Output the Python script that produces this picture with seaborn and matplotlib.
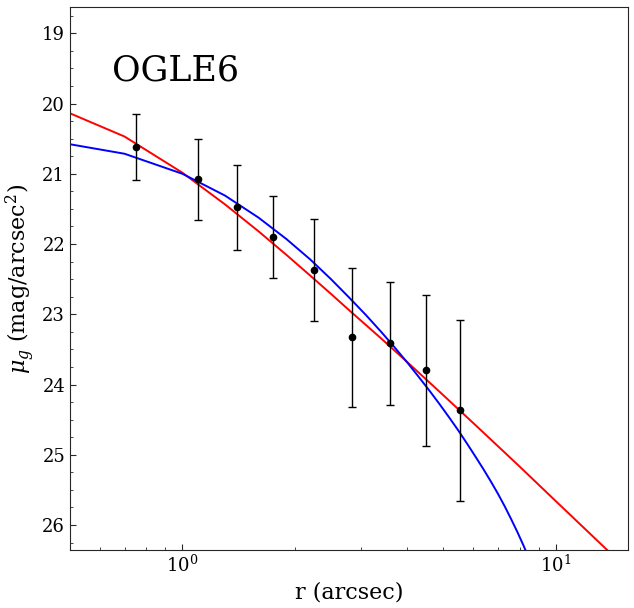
import numpy as np
import pandas as pd
import matplotlib
matplotlib.use("Agg")
import matplotlib.pyplot as plt
import seaborn as sns
from matplotlib.ticker import AutoMinorLocator

# Observed profile
r_obs = [0.752, 1.104, 1.403, 1.752, 2.255, 2.850, 3.603, 4.497, 5.545]
mu_obs = [20.62, 21.08, 21.48, 21.90, 22.37, 23.33, 23.41, 23.80, 24.37]
mu_err = [0.47, 0.58, 0.60, 0.585, 0.73, 0.99, 0.875, 1.075, 1.295]

# Red model curve
r_red = [0.4, 0.7, 1.0, 1.3, 1.6, 1.9, 2.2, 2.5, 2.8, 3.4, 4.0, 4.9, 6.1, 7.9, 10.0, 14.2]
mu_red = [19.92, 20.47, 20.985, 21.435, 21.82, 22.155, 22.45, 22.71, 22.945, 23.34,
          23.68, 24.11, 24.58, 25.14, 25.66, 26.43]

# Blue model curve
r_blue = [0.4, 0.7, 1.0, 1.3, 1.6, 1.9, 2.2, 2.5, 2.8, 3.1, 3.4, 3.7, 4.0, 4.3, 4.6,
          4.9, 5.2, 5.5, 5.8, 6.1, 6.4, 6.7, 7.0, 7.3, 7.6, 7.9, 8.2, 8.5]
mu_blue = [20.49, 20.715, 21.0, 21.31, 21.625, 21.93, 22.22, 22.50, 22.765, 23.01,
           23.245, 23.47, 23.685, 23.895, 24.095, 24.29, 24.48, 24.665, 24.85, 25.03,
           25.205, 25.38, 25.555, 25.735, 25.92, 26.105, 26.295, 26.49]

sns.set_style("ticks")
plt.rcParams['font.family'] = ['DejaVu Serif']
plt.rcParams['mathtext.fontset'] = 'dejavuserif'
plt.rcParams['text.color'] = 'black'
plt.rcParams['axes.labelcolor'] = 'black'
plt.rcParams['xtick.color'] = 'black'
plt.rcParams['ytick.color'] = 'black'
plt.rcParams['axes.edgecolor'] = '.15'

fig = plt.figure(figsize=(6.34, 6.08), dpi=100)
ax = fig.add_axes([0.1104, 0.0954, 0.8806, 0.8926])

df_red = pd.DataFrame({"r": r_red, "mu": mu_red})
df_blue = pd.DataFrame({"r": r_blue, "mu": mu_blue})
sns.lineplot(data=df_red, x="r", y="mu", color="red", lw=1.4, sort=False,
             estimator=None, ax=ax)
sns.lineplot(data=df_blue, x="r", y="mu", color="blue", lw=1.4, sort=False,
             estimator=None, ax=ax)
ax.errorbar(r_obs, mu_obs, yerr=mu_err, fmt="o", color="black", ms=4.5,
            elinewidth=1.0, capsize=3, capthick=1.0, zorder=5)

ax.set_xscale("log")
ax.set_xlim(0.5, 15.64)
ax.set_ylim(26.356, 18.63)
ax.yaxis.set_minor_locator(AutoMinorLocator(4))
ax.tick_params(which="both", direction="in", top=False, right=False, labelsize=13,
               color=".15")
ax.tick_params(which="major", length=4)
ax.tick_params(which="minor", length=2.5)
ax.set_xlabel("r (arcsec)", fontsize=16)
ax.set_ylabel(r"$\mu_g$ (mag/arcsec$^2$)", fontsize=16)
ax.text(0.075, 0.915, "OGLE6", transform=ax.transAxes, fontsize=25,
        ha="left", va="top", color="black")

fig.savefig("out.png", dpi=100)
